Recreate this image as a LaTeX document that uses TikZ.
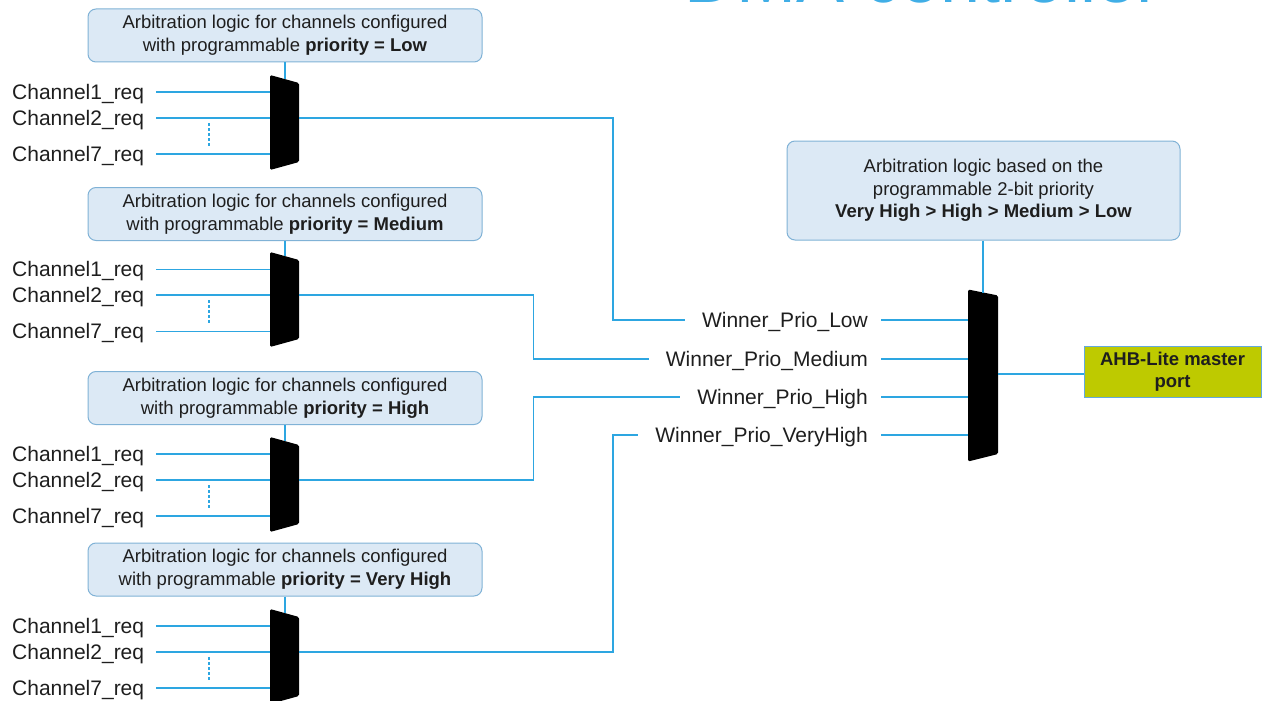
\documentclass[tikz,border=0pt]{standalone}
\usepackage{fontspec}
\setmainfont{Liberation Sans}
\usetikzlibrary{calc}

\definecolor{wireblue}{RGB}{45,166,225}
\definecolor{boxfill}{RGB}{220,233,245}
\definecolor{boxline}{RGB}{128,178,214}
\definecolor{ahbfill}{RGB}{190,202,0}
\definecolor{ahbline}{RGB}{100,170,220}
\definecolor{txt}{RGB}{30,30,30}
\definecolor{titleblue}{RGB}{64,174,230}

% one priority group: multiplexer body and its pin coordinates (#1 name, #2 top edge)
\newcommand{\groupmux}[2]{%
  \fill[muxbody] (270,#2) -- (299,#2+8) -- (299,#2+87) -- (270,#2+95) -- cycle;
  \coordinate (#1-top) at (285,#2+4);
  \coordinate (#1-in1) at (270,#2+17);
  \coordinate (#1-in2) at (270,#2+43);
  \coordinate (#1-in7) at (270,#2+79);
  \coordinate (#1-out) at (299,#2+43);
}
% channel request labels and their wires (#1 name, #2 top edge, #3 wire style for 1 and 7)
\newcommand{\chanreqs}[3]{%
  \node[sig, anchor=base west] (#1-c1) at (12,#2+17+7.5) {Channel1\_req};
  \node[sig, anchor=base west] (#1-c2) at (12,#2+43+7.5) {Channel2\_req};
  \node[sig, anchor=base west] (#1-c7) at (12,#2+79+7.5) {Channel7\_req};
  \draw[#3] (#1-c1.east |- #1-in1) ++(12,0) -- (#1-in1);
  \draw[wire] (#1-c2.east |- #1-in2) ++(12,0) -- (#1-in2);
  \draw[#3] (#1-c7.east |- #1-in7) ++(12,0) -- (#1-in7);
  \draw[gap] (209,#2+48) -- (209,#2+71);
}

\begin{document}
\begin{tikzpicture}[x=1pt,y=-1pt,
  wire/.style={draw=wireblue, line width=1.7pt},
  thinwire/.style={draw=wireblue, line width=1pt},
  gap/.style={draw=wireblue, line width=1.2pt, dash pattern=on 3pt off 2pt},
  arbbox/.style={draw=boxline, fill=boxfill, rounded corners=8pt, line width=1pt,
    text=txt, align=center, inner sep=0, minimum width=394pt, minimum height=53pt,
    font=\fontsize{18.5}{23}\selectfont},
  sig/.style={inner sep=0, text=txt, font=\fontsize{21}{24}\selectfont},
  muxbody/.style={fill=black, rounded corners=1.5pt},
]
\useasboundingbox (0,0) rectangle (1267,701);

% heading, cut by the top edge
\begin{scope}
  \clip (0,0) rectangle (1267,701);
  \node[anchor=base west, inner sep=0, text=titleblue,
        font=\fontsize{72}{72}\selectfont] (title) at (684.5,2.8) {DMA controller};
\end{scope}

% ---- per-priority arbiters ----
\node[arbbox] (arbLow) at (285,35.5)
  {Arbitration logic for channels configured\\with programmable \textbf{priority = Low}};
\node[arbbox] (arbMed) at (285,214)
  {Arbitration logic for channels configured\\with programmable \textbf{priority = Medium}};
\node[arbbox] (arbHigh) at (285,398)
  {Arbitration logic for channels configured\\with programmable \textbf{priority = High}};
\node[arbbox] (arbVH) at (285,569.5)
  {Arbitration logic for channels configured\\with programmable \textbf{priority = Very High}};

\groupmux{mLow}{75}
\groupmux{mMed}{252}
\groupmux{mHigh}{437}
\groupmux{mVH}{609}

\chanreqs{mLow}{75}{wire}
\chanreqs{mMed}{252}{thinwire}
\chanreqs{mHigh}{437}{wire}
\chanreqs{mVH}{609}{wire}

\draw[wire] (arbLow.south) -- (mLow-top);
\draw[wire] (arbMed.south) -- (mMed-top);
\draw[wire] (arbHigh.south) -- (mHigh-top);
\draw[wire] (arbVH.south) -- (mVH-top);

% ---- final arbiter ----
\node[arbbox, minimum width=393pt, minimum height=99pt,
      font=\fontsize{18.5}{22.5}\selectfont] (arbTop) at (983.5,190.5)
  {Arbitration logic based on the\\programmable 2-bit priority\\\textbf{Very High > High > Medium > Low}};

\fill[muxbody] (968,289.5) -- (998,295.5) -- (998,454) -- (968,461.5) -- cycle;
\coordinate (fm-top) at (983,292.5);
\coordinate (fm-low) at (968,320.3);
\coordinate (fm-med) at (968,358.7);
\coordinate (fm-high) at (968,396.7);
\coordinate (fm-vh) at (968,435);
\coordinate (fm-out) at (998,374);

\draw[wire] (arbTop.south -| fm-top) -- (fm-top);

\node[sig, anchor=base east] (wLow) at (868,320.3+7.5) {Winner\_Prio\_Low};
\node[sig, anchor=base east] (wMed) at (868,358.7+7.5) {Winner\_Prio\_Medium};
\node[sig, anchor=base east] (wHigh) at (868,396.7+7.5) {Winner\_Prio\_High};
\node[sig, anchor=base east] (wVH) at (868,435+7.5) {Winner\_Prio\_VeryHigh};

\draw[wire] (wLow.east |- fm-low) ++(13,0) -- (fm-low);
\draw[wire] (wMed.east |- fm-med) ++(13,0) -- (fm-med);
\draw[wire] (wHigh.east |- fm-high) ++(13,0) -- (fm-high);
\draw[wire] (wVH.east |- fm-vh) ++(13,0) -- (fm-vh);

% routing columns between the two stages
\coordinate (busA) at (613,0);
\coordinate (busB) at (533.5,0);
\coordinate (wLow-in) at ([xshift=-17pt]wLow.west |- fm-low);
\coordinate (wMed-in) at ([xshift=-17pt]wMed.west |- fm-med);
\coordinate (wHigh-in) at ([xshift=-17pt]wHigh.west |- fm-high);
\coordinate (wVH-in) at ([xshift=-17pt]wVH.west |- fm-vh);

\draw[wire] (mLow-out) -| (busA |- wLow-in) -- (wLow-in);
\draw[wire] (mMed-out) -| (busB |- wMed-in) -- (wMed-in);
\draw[wire] (mHigh-out) -| (busB |- wHigh-in) -- (wHigh-in);
\draw[wire] (mVH-out) -| (busA |- wVH-in) -- (wVH-in);

% ---- bus port ----
\node[draw=ahbline, fill=ahbfill, line width=1pt, minimum width=177pt, minimum height=51pt,
      inner sep=0, align=center, text=txt,
      font=\bfseries\fontsize{18.5}{22}\selectfont] (ahb) at (1172.5,371.5) {AHB-Lite master\\port};
\draw[wire] (fm-out) -- (fm-out -| ahb.west);

\end{tikzpicture}
\end{document}
